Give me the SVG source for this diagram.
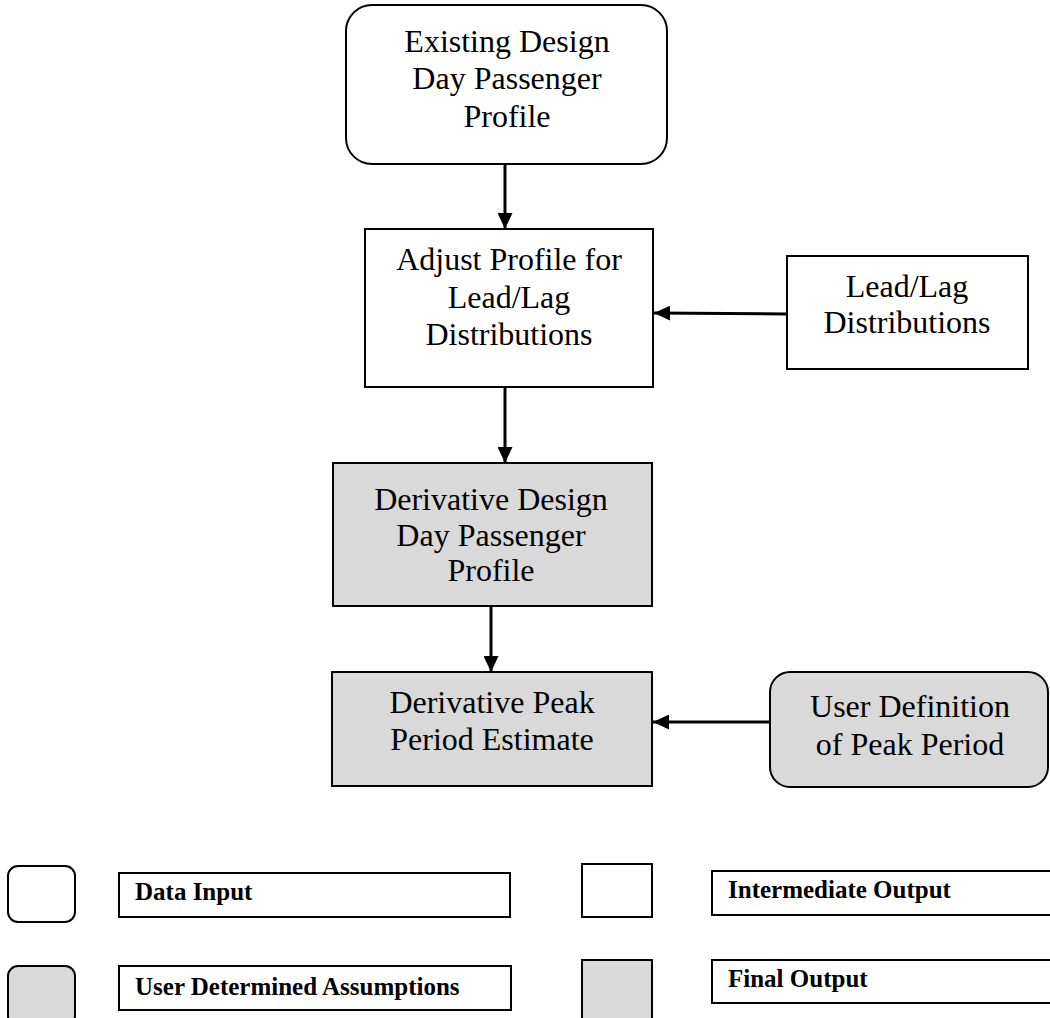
<svg xmlns="http://www.w3.org/2000/svg" width="1050" height="1018" viewBox="0 0 1050 1018">
<style>
.box{stroke:#000;stroke-width:2}
.w{fill:#fff}
.g{fill:#d9d9d9}
.t{font-family:"Liberation Serif","Times New Roman",serif;font-size:32px;fill:#000;text-anchor:middle}
.lg{font-family:"Liberation Serif","Times New Roman",serif;font-size:25px;font-weight:bold;fill:#000}
.c{stroke:#000;stroke-width:3;fill:none;marker-end:url(#ah)}
</style>
<defs>
<marker id="ah" markerUnits="userSpaceOnUse" markerWidth="17" markerHeight="15" refX="16" refY="7.5" orient="auto">
<path d="M0,0 L16,7.5 L0,15 Z" fill="#000"/>
</marker>
</defs>
<rect width="1050" height="1018" fill="#fff"/>
<g id="connectors">
<line class="c" x1="505" y1="164" x2="505" y2="229"/>
<line class="c" x1="787" y1="314" x2="654" y2="313"/>
<line class="c" x1="505" y1="387" x2="505" y2="463"/>
<line class="c" x1="491" y1="606" x2="491" y2="672"/>
<line class="c" x1="770" y1="722" x2="653" y2="722"/>
</g>
<g id="existing-profile">
<rect class="box w" x="346" y="5" width="321" height="159" rx="26"/>
<text class="t" x="507" y="52">Existing Design</text>
<text class="t" x="507" y="89">Day Passenger</text>
<text class="t" x="507" y="127">Profile</text>
</g>
<g id="adjust-profile">
<rect class="box w" x="365" y="229" width="288" height="158"/>
<text class="t" x="509" y="270">Adjust Profile for</text>
<text class="t" x="509" y="308">Lead/Lag</text>
<text class="t" x="509" y="345">Distributions</text>
</g>
<g id="lead-lag">
<rect class="box w" x="787" y="256" width="241" height="113"/>
<text class="t" x="907" y="297">Lead/Lag</text>
<text class="t" x="907" y="333">Distributions</text>
</g>
<g id="derivative-profile">
<rect class="box g" x="333" y="463" width="319" height="143"/>
<text class="t" x="491" y="510">Derivative Design</text>
<text class="t" x="491" y="546">Day Passenger</text>
<text class="t" x="491" y="581">Profile</text>
</g>
<g id="derivative-peak">
<rect class="box g" x="332" y="672" width="320" height="114"/>
<text class="t" x="492" y="713">Derivative Peak</text>
<text class="t" x="492" y="750">Period Estimate</text>
</g>
<g id="user-definition">
<rect class="box g" x="770" y="672" width="278" height="115" rx="20"/>
<text class="t" x="910" y="717">User Definition</text>
<text class="t" x="910" y="755">of Peak Period</text>
</g>
<g id="legend">
<rect class="box w" x="8" y="866" width="67" height="56" rx="10"/>
<rect class="box w" x="119" y="873" width="391" height="44"/>
<text class="lg" x="135" y="900">Data Input</text>
<rect class="box g" x="8" y="966" width="67" height="60" rx="10"/>
<rect class="box w" x="119" y="966" width="392" height="44"/>
<text class="lg" x="135" y="995">User Determined Assumptions</text>
<rect class="box w" x="582" y="864" width="70" height="53"/>
<rect class="box w" x="712" y="871" width="350" height="44"/>
<text class="lg" x="728" y="898">Intermediate Output</text>
<rect class="box g" x="582" y="960" width="70" height="60"/>
<rect class="box w" x="712" y="960" width="350" height="43"/>
<text class="lg" x="728" y="987">Final Output</text>
</g>
</svg>
